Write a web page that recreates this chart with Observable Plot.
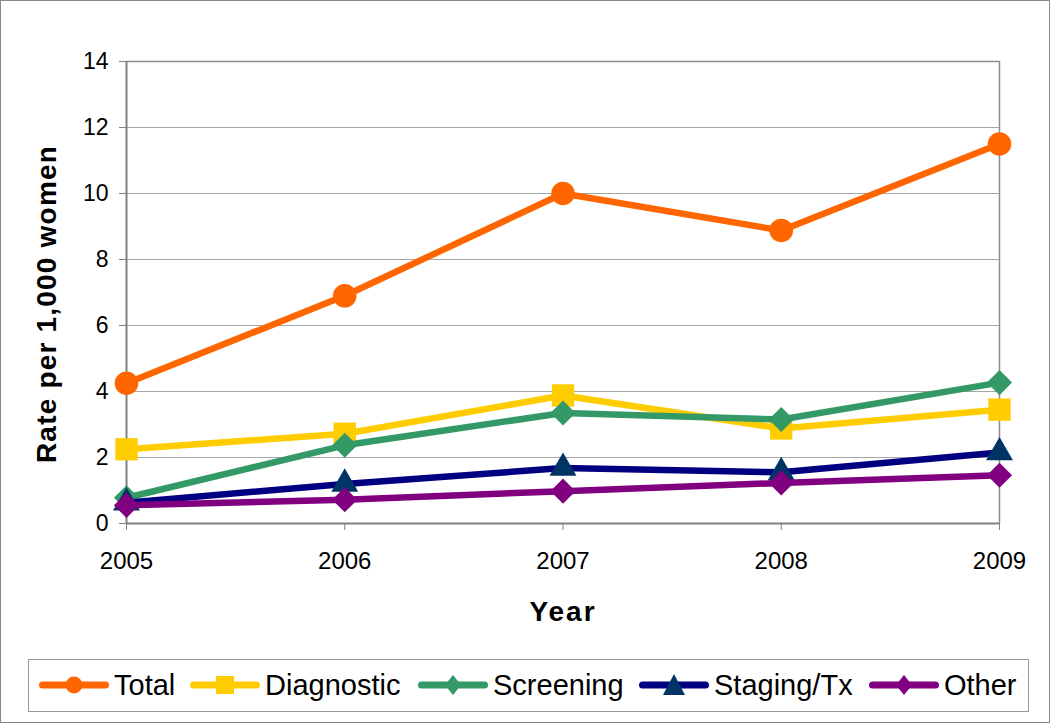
<!DOCTYPE html>
<html>
<head>
<meta charset="utf-8">
<script src="https://cdn.jsdelivr.net/npm/d3@7"></script>
<script src="https://cdn.jsdelivr.net/npm/@observablehq/plot@0.6"></script>
<style>
  body { margin: 0; background: #fff; }
  #wrap { position: relative; width: 1050px; height: 723px; font-family: "Liberation Sans", Arial, sans-serif; color: #000; overflow: hidden; }
  #chart { position: absolute; left: 0; top: 0; }
  .ytitle { position: absolute; left: 47px; top: 304px; transform: translate(-50%, -50%) rotate(-90deg); font-weight: bold; font-size: 28px; letter-spacing: 1.2px; white-space: nowrap; }
  .xtitle { position: absolute; left: 563px; top: 612px; transform: translate(-50%, -50%); font-weight: bold; font-size: 28px; letter-spacing: 2px; white-space: nowrap; }
  .legend { position: absolute; left: 28px; top: 659px; width: 1001px; height: 53px; box-sizing: border-box; border: 1.5px solid #999; }
  .item { position: absolute; top: 0; height: 50px; display: flex; align-items: center; font-size: 29px; white-space: nowrap; }
  .item svg { margin-right: 5px; }
  .outer { position: absolute; left: 0; top: 0; width: 1050px; height: 723px; box-sizing: border-box; border: 1px solid #888; pointer-events: none; }
</style>
</head>
<body>
<div id="wrap">
  <div id="chart"></div>
  <div class="ytitle">Rate per 1,000 women</div>
  <div class="xtitle">Year</div>
  <div class="legend" id="legend"></div>
  <div class="outer"></div>
</div>
<script>
const years = [2005, 2006, 2007, 2008, 2009];
const yTicks = [0, 2, 4, 6, 8, 10, 12, 14];
const seriesNames = ["Total", "Diagnostic", "Screening", "Staging/Tx", "Other"];
const total = [4.25, 6.9, 10.0, 8.88, 11.5];
const diagnostic = [2.25, 2.72, 3.88, 2.88, 3.45];
const screening = [0.78, 2.37, 3.35, 3.15, 4.27];
const staging = [0.63, 1.2, 1.68, 1.55, 2.15];
const other = [0.55, 0.72, 0.98, 1.23, 1.46];

const lineColors = ["#FF6600", "#FFCC00", "#339966", "#000080", "#800080"];
const markerColors = ["#FF6600", "#FFCC00", "#339966", "#003366", "#800080"];
const symbols = ["circle", "square", "diamond2", "triangle", "diamond2"];
const radii = [11.8, 12.6, 11.3, 10, 11.3];
const valuesList = [total, diagnostic, screening, staging, other];

const rows = seriesNames.flatMap((name, si) =>
  years.map((year, i) => ({ name, year, value: valuesList[si][i] })));

const W = 1050, H = 640;
const marks = [
  Plot.ruleY(yTicks.filter(d => d > 0 && d < 14), { stroke: "#a6a6a6", strokeWidth: 1 }),
  Plot.ruleY([14], { stroke: "#8c8c8c", strokeWidth: 1.5 }),
  Plot.ruleX([2009], { stroke: "#8c8c8c", strokeWidth: 1.5 }),
  Plot.axisY({ ticks: yTicks, tickSize: 7, tickPadding: 11, fontSize: 23, label: null, stroke: "#808080", fill: "#000" }),
  Plot.axisX({ ticks: years, tickSize: 7, tickPadding: 21, fontSize: 24, label: null, tickFormat: d => String(d), stroke: "#808080", fill: "#000" }),
  Plot.ruleX([2005], { stroke: "#808080", strokeWidth: 2 }),
  Plot.ruleY([0], { stroke: "#808080", strokeWidth: 2 })
];
seriesNames.forEach((name, si) => {
  const data = rows.filter(d => d.name === name);
  marks.push(Plot.line(data, { x: "year", y: "value", stroke: lineColors[si], strokeWidth: 6.5, strokeLinejoin: "round", strokeLinecap: "round" }));
  marks.push(Plot.dot(data, { x: "year", y: "value", symbol: symbols[si], r: radii[si], fill: markerColors[si], stroke: "none" }));
});

const chart = Plot.plot({
  width: W, height: H,
  marginLeft: 126, marginRight: 51, marginTop: 61, marginBottom: H - 523,
  x: { domain: [2005, 2009] },
  y: { domain: [0, 14] },
  style: { fontFamily: "'Liberation Sans', Arial, sans-serif", color: "#000", background: "transparent", overflow: "visible" },
  marks
});
document.getElementById("chart").appendChild(chart);

// Legend
const itemLefts = [10, 161, 389, 610, 840];
const legend = document.getElementById("legend");
function markerShape(sym, color) {
  const cx = 35, cy = 25;
  if (sym === "circle") return `<circle cx="${cx}" cy="${cy}" r="8.5" fill="${color}"/>`;
  if (sym === "square") return `<rect x="${cx - 9}" y="${cy - 9}" width="18" height="18" fill="${color}"/>`;
  if (sym === "diamond2") return `<path d="M${cx},${cy - 10}L${cx + 8},${cy}L${cx},${cy + 10}L${cx - 8},${cy}Z" fill="${color}"/>`;
  if (sym === "triangle") return `<path d="M${cx},${cy - 11}L${cx + 11},${cy + 10}L${cx - 11},${cy + 10}Z" fill="${color}"/>`;
  return "";
}
seriesNames.forEach((name, si) => {
  const div = document.createElement("div");
  div.className = "item";
  div.style.left = itemLefts[si] + "px";
  div.innerHTML = `<svg width="70" height="50" viewBox="0 0 70 50"><line x1="3.5" y1="25" x2="66.5" y2="25" stroke="${lineColors[si]}" stroke-width="7" stroke-linecap="round"/>${markerShape(symbols[si], markerColors[si])}</svg><span>${name}</span>`;
  legend.appendChild(div);
});
</script>
</body>
</html>
